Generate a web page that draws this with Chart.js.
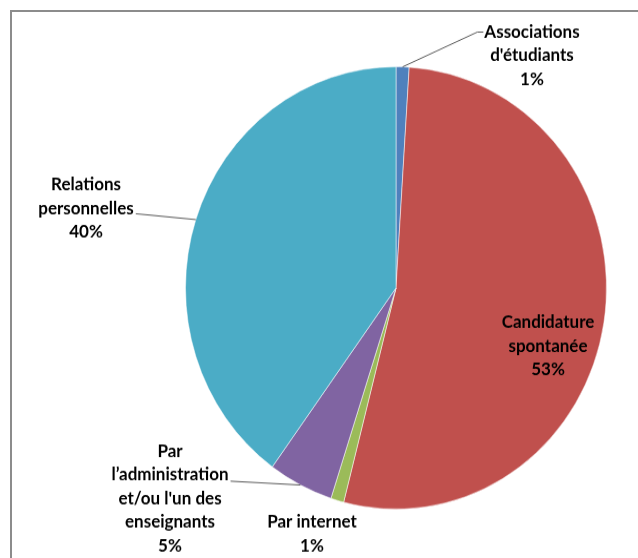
<!DOCTYPE html>
<html>
<head>
<meta charset="utf-8">
<script src="https://cdn.jsdelivr.net/npm/chart.js@4.4.1/dist/chart.umd.min.js"></script>
<style>
  html, body { margin: 0; padding: 0; background: #fff; overflow: hidden; }
  #frame { position: absolute; left: 10px; top: 10px; width: 640px; height: 560px; border: 2px solid #8c8c8c; }
  #wrap { position: absolute; left: 0; top: 0; width: 638px; height: 531px; transform: scaleY(1.0508); transform-origin: 0 0; }
</style>
</head>
<body>
<div id="frame"></div>
<div id="wrap"><canvas id="pie" width="638" height="531"></canvas></div>
<script>
const categories = [
  ["Associations", "d'étudiants"],
  ["Candidature", "spontanée"],
  ["Par internet"],
  ["Par", "l’administration", "et/ou l'un des", "enseignants"],
  ["Relations", "personnelles"]
];
const shares = [1, 53, 1, 5, 40];
const sliceColors = ['#4F81BD', '#C0504D', '#9BBB59', '#8064A2', '#4BACC6'];

const labelFont = 'bold 17px Lato, "Liberation Sans Narrow", sans-serif';

// text block centre (first line) and which line the leader starts from
const labelSpots = [
  { x: 532, y: 30.5, leader: { side: 'left', line: 0 } },
  { x: 548, y: 307, leader: null },
  { x: 312, y: 497, leader: null },
  { x: 170, y: 429.5, leader: { side: 'right', line: 1, dy: 6 } },
  { x: 86, y: 176, leader: { side: 'right', line: 1, dy: 5 } }
];
const lineGap = 22.4;

const pieLabels = {
  id: 'pieLabels',
  afterDatasetsDraw(chart) {
    const ctx = chart.ctx;
    const meta = chart.getDatasetMeta(0);
    const total = shares.reduce((a, b) => a + b, 0);
    ctx.save();
    ctx.font = labelFont;
    ctx.textAlign = 'center';
    ctx.textBaseline = 'middle';
    categories.forEach((lines, i) => {
      const spot = labelSpots[i];
      const all = lines.concat([Math.round(shares[i] / total * 100) + '%']);
      const arc = meta.data[i];
      const mid = (arc.startAngle + arc.endAngle) / 2;
      const ex = arc.x + Math.cos(mid) * arc.outerRadius;
      const ey = arc.y + Math.sin(mid) * arc.outerRadius;

      if (spot.leader) {
        const ld = spot.leader;
        const w = ctx.measureText(all[ld.line]).width;
        const ly = spot.y + ld.line * lineGap + (ld.dy || 0);
        ctx.strokeStyle = '#5a5a5a';
        ctx.lineWidth = 1;
        ctx.beginPath();
        if (ld.side === 'left') {
          const lx = spot.x - w / 2 - 1;
          ctx.moveTo(lx, ly);
          ctx.lineTo(lx - 6, ly);
        } else {
          const lx = spot.x + w / 2 + 2;
          ctx.moveTo(lx, ly);
        }
        ctx.lineTo(ex, ey);
        ctx.stroke();
      }

      ctx.fillStyle = '#000';
      all.forEach((t, k) => ctx.fillText(t, spot.x, spot.y + k * lineGap));
    });
    ctx.restore();
  }
};

new Chart(document.getElementById('pie'), {
  type: 'pie',
  data: {
    labels: categories,
    datasets: [{
      data: shares,
      backgroundColor: sliceColors,
      borderColor: 'rgba(255,255,255,0.5)',
      borderWidth: 1
    }]
  },
  options: {
    responsive: false,
    animation: false,
    layout: { padding: { left: 185, right: 31, top: 63, bottom: 46 } },
    plugins: {
      legend: { display: false },
      tooltip: { enabled: false }
    }
  },
  plugins: [pieLabels]
});
</script>
</body>
</html>
